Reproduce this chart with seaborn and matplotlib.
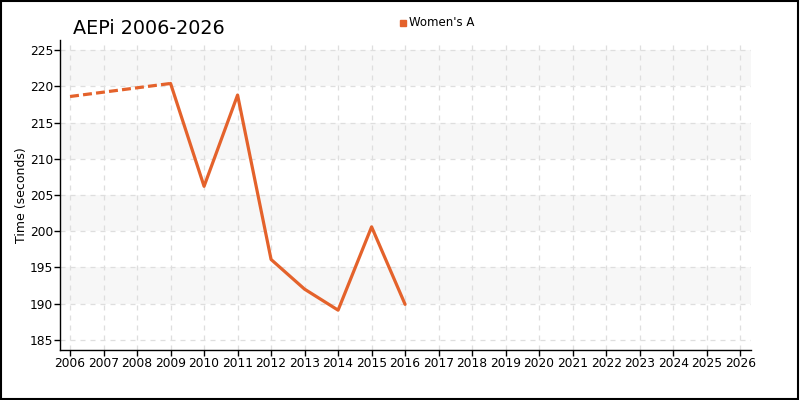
import numpy as np
import pandas as pd
import matplotlib
matplotlib.use("Agg")
import matplotlib.pyplot as plt
import seaborn as sns

# chart data
years = [2006, 2009, 2010, 2011, 2012, 2013, 2014, 2015, 2016]
times = [218.6, 220.4, 206.2, 218.8, 196.1, 192.0, 189.1, 200.6, 189.9]
series_name = "Women's A"
x_ticks = list(range(2006, 2027))
y_ticks = [185, 190, 195, 200, 205, 210, 215, 220, 225]

sns.set_theme(style="white")
plt.rcParams['font.family'] = ['DejaVu Sans']
plt.rcParams['text.color'] = 'black'
plt.rcParams['axes.labelcolor'] = 'black'

color = "#E4622B"
df = pd.DataFrame({"year": years, "time": times})

fig = plt.figure(figsize=(8, 4), dpi=100)
ax = fig.add_axes([0.075, 0.125, 0.864, 0.775])

# shaded bands
for lo in [190, 200, 210, 220]:
    ax.axhspan(lo, lo + 5, color="#f7f7f7", zorder=0, lw=0)

# dashed segment across missing years, solid elsewhere
ax.plot(df.year[:2], df.time[:2], color=color, lw=2.3, ls=(0, (2.8, 1.3)), zorder=3)
sns.lineplot(data=df.iloc[1:], x="year", y="time", color=color, lw=2.3, ax=ax, zorder=3)

ax.set_xlim(2005.7, 2026.33)
ax.set_ylim(183.6, 226.4)
ax.set_xticks(x_ticks)
ax.set_yticks(y_ticks)
ax.tick_params(axis="both", direction="out", length=4, width=1, colors="black",
               labelsize=8.8, pad=1, bottom=True, left=True)
ax.grid(True, ls=(0, (4, 4)), color="#dedede", lw=0.9)
ax.set_axisbelow(True)
for s in ["top", "right"]:
    ax.spines[s].set_visible(False)
for s in ["left", "bottom"]:
    ax.spines[s].set_color("black")
    ax.spines[s].set_linewidth(1)

ax.set_xlabel("")
ax.set_ylabel("Time (seconds)", fontsize=9)
ax.yaxis.set_label_coords(-0.047, 0.5)

fig.text(0.091, 0.905, "AEPi 2006-2026", fontsize=13.8, ha="left", va="bottom")

# legend
fig.patches.append(plt.Rectangle((0.5, 0.935), 0.0075, 0.015, transform=fig.transFigure,
                                 color=color, figure=fig))
fig.text(0.5115, 0.943, series_name, fontsize=8.5, va="center", ha="left")

# outer border
fig.patches.append(plt.Rectangle((0.001, 0.002), 0.997, 0.996, transform=fig.transFigure,
                                 fill=False, edgecolor="black", lw=1.5, figure=fig))

fig.savefig("out.png", dpi=100)
